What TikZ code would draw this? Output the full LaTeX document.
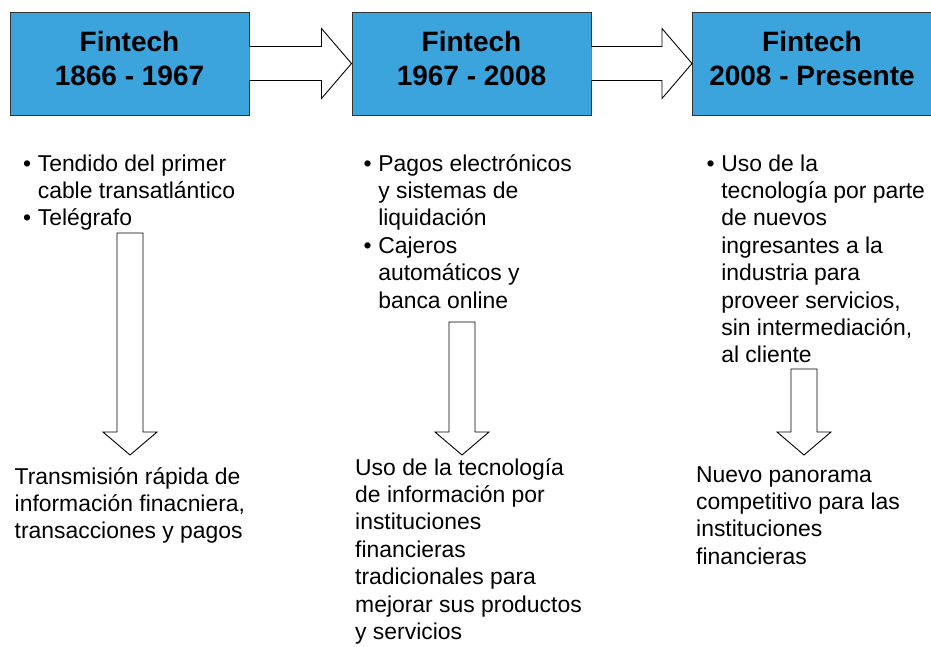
\documentclass[tikz,border=0pt]{standalone}
\usepackage{fontspec}
\setmainfont{Liberation Sans}
\usetikzlibrary{calc,positioning}

\definecolor{fintechblue}{RGB}{59,164,221}
\newcommand\titlefont{\fontsize{28}{34}\selectfont\bfseries}
\newcommand\bodyfont{\fontsize{22.9}{27.4}\selectfont}
\newcommand\blockright[2]{%
	\draw[blockarrow] ($(#1.east)+(0pt,17pt)$) -- ($(#2.west)+(-30pt,17pt)$) -- ($(#2.west)+(-30pt,35pt)$)
		-- (#2.west) -- ($(#2.west)+(-30pt,-35pt)$) -- ($(#2.west)+(-30pt,-17pt)$) -- ($(#1.east)+(0pt,-17pt)$);
}
\newcommand\blockdown[2]{%
	\draw[blockarrow] ($(#1)+(-13pt,0pt)$) -- ($(#2)+(-13pt,23pt)$) -- ($(#2)+(-27pt,23pt)$)
		-- (#2) -- ($(#2)+(27pt,23pt)$) -- ($(#2)+(13pt,23pt)$) -- ($(#1)+(13pt,0pt)$) -- cycle;
}

\begin{document}
\begin{tikzpicture}[x=1pt,y=-1pt,
	period/.style={draw=black!80,line width=1pt,fill=fintechblue,minimum width=239pt,minimum height=103pt,inner sep=0pt,align=center,font=\titlefont},
	blockarrow/.style={draw=black,line width=0.9pt,fill=white},
	textblock/.style={anchor=base west,inner sep=0pt,font=\bodyfont}]
\useasboundingbox (0,0) rectangle (931,646);

\node[period] (b1) at (129.5,63.5) {Fintech\\1866 - 1967\strut};
\node[period,right=102pt of b1] (b2) {Fintech\\1967 - 2008\strut};
\node[period,right=100.5pt of b2] (b3) {Fintech\\2008 - Presente\strut};
\blockright{b1}{b2}
\blockright{b2}{b3}

\node[textblock] (l1) at (23,171) {\begin{tabular}[t]{@{}l@{\hspace{6.6pt}}l@{}}
	• & Tendido del primer\\ & cable transatlántico\\ • & Telégrafo\end{tabular}};
\node[textblock] (l2) at (363.5,171) {\begin{tabular}[t]{@{}l@{\hspace{6.6pt}}l@{}}
	• & Pagos electrónicos\\ & y sistemas de\\ & liquidación\\ • & Cajeros\\ & automáticos y\\ & banca online\end{tabular}};
\node[textblock] (l3) at (706.5,171) {\begin{tabular}[t]{@{}l@{\hspace{6.6pt}}l@{}}
	• & Uso de la\\ & tecnología por parte\\ & de nuevos\\ & ingresantes a la\\ & industria para\\ & proveer servicios,\\ & sin intermediación,\\ & al cliente\end{tabular}};

\node[textblock] (r1) at (14.5,484) {\begin{tabular}[t]{@{}l@{}}
	Transmisión rápida de\\información finacniera,\\transacciones y pagos\end{tabular}};
\node[textblock] (r2) at (355,475) {\begin{tabular}[t]{@{}l@{}}
	Uso de la tecnología\\de información por\\instituciones\\financieras\\tradicionales para\\mejorar sus productos\\y servicios\end{tabular}};
\node[textblock] (r3) at (696,482) {\begin{tabular}[t]{@{}l@{}}
	Nuevo panorama\\competitivo para las\\instituciones\\financieras\end{tabular}};

\coordinate (top1) at (130,233);
\coordinate (tip1) at (130,455);
\coordinate (top2) at (462,322);
\coordinate (tip2) at (462,455);
\coordinate (top3) at (804,369);
\coordinate (tip3) at (804,455);
\blockdown{top1}{tip1}
\blockdown{top2}{tip2}
\blockdown{top3}{tip3}
\end{tikzpicture}
\end{document}
